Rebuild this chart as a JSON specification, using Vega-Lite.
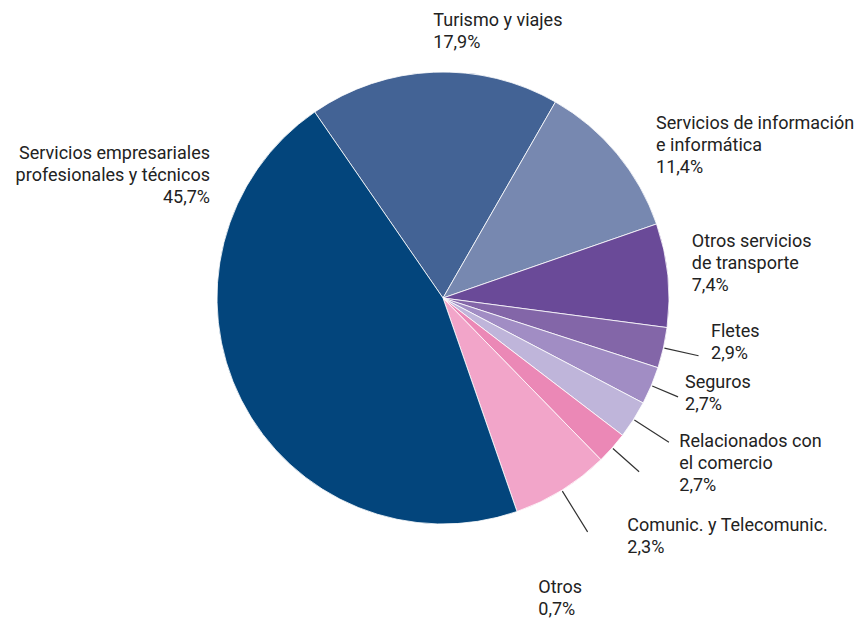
{
  "$schema": "https://vega.github.io/schema/vega-lite/v6.json",
  "autosize": "none",
  "width": 836,
  "height": 596,
  "padding": {"left": 25, "top": 0, "right": 0, "bottom": 27},
  "background": "#ffffff",
  "config": {"view": {"stroke": null}},
  "data": {
    "values": [
      {"name": "Turismo y viajes", "value": 17.9, "label": "Turismo y viajes\n17,9%"},
      {"name": "Servicios de información e informática", "value": 11.4, "label": "Servicios de información\ne informática\n11,4%"},
      {"name": "Otros servicios de transporte", "value": 7.4, "label": "Otros servicios\nde transporte\n7,4%"},
      {"name": "Fletes", "value": 2.9, "label": "Fletes\n2,9%"},
      {"name": "Seguros", "value": 2.7, "label": "Seguros\n2,7%"},
      {"name": "Relacionados con el comercio", "value": 2.7, "label": "Relacionados con\nel comercio\n2,7%"},
      {"name": "Comunic. y Telecomunic.", "value": 2.3, "label": "Comunic. y Telecomunic.\n2,3%"},
      {"name": "Otros", "value": 7.0, "label": "Otros\n0,7%"},
      {"name": "Servicios empresariales profesionales y técnicos", "value": 45.7, "label": "Servicios empresariales\nprofesionales y técnicos\n45,7%"}
    ]
  },
  "transform": [{"window": [{"op": "row_number", "as": "idx"}]}],
  "encoding": {
    "theta": {"field": "value", "type": "quantitative", "stack": true, "scale": {"range": [-0.60388, 5.67931]}},
    "order": {"field": "idx", "type": "quantitative"},
    "detail": {"field": "name", "type": "nominal"}
  },
  "layer": [
    {
      "mark": {"type": "arc", "radius": 226, "stroke": "#ffffff", "strokeWidth": 0.8},
      "encoding": {
        "color": {
          "field": "name", "type": "nominal", "legend": null,
          "scale": {
            "domain": ["Turismo y viajes", "Servicios de información e informática", "Otros servicios de transporte", "Fletes", "Seguros", "Relacionados con el comercio", "Comunic. y Telecomunic.", "Otros", "Servicios empresariales profesionales y técnicos"],
            "range": ["#436395", "#7788B0", "#6A4A98", "#8366A8", "#A18DC4", "#BFB5DA", "#EB88B6", "#F2A5C9", "#03457C"]
          }
        }
      }
    },
    {
      "mark": {"type": "arc", "radius": 262, "radius2": 227, "padAngle": 3.14, "filled": false, "stroke": "#333333", "strokeWidth": 1.2},
      "encoding": {"strokeOpacity": {"condition": {"test": "datum.name === 'Fletes'", "value": 1}, "value": 0}}
    },
    {
      "mark": {"type": "arc", "radius": 255, "radius2": 227, "padAngle": 3.14, "filled": false, "stroke": "#333333", "strokeWidth": 1.2},
      "encoding": {"strokeOpacity": {"condition": {"test": "datum.name === 'Seguros'", "value": 1}, "value": 0}}
    },
    {
      "mark": {"type": "arc", "radius": 268, "radius2": 227, "padAngle": 3.14, "filled": false, "stroke": "#333333", "strokeWidth": 1.2},
      "encoding": {"strokeOpacity": {"condition": {"test": "datum.name === 'Relacionados con el comercio'", "value": 1}, "value": 0}}
    },
    {
      "mark": {"type": "arc", "radius": 262, "radius2": 227, "padAngle": 3.14, "filled": false, "stroke": "#333333", "strokeWidth": 1.2},
      "encoding": {"strokeOpacity": {"condition": {"test": "datum.name === 'Comunic. y Telecomunic.'", "value": 1}, "value": 0}}
    },
    {
      "mark": {"type": "arc", "radius": 275, "radius2": 227, "padAngle": 3.14, "filled": false, "stroke": "#333333", "strokeWidth": 1.2},
      "encoding": {"strokeOpacity": {"condition": {"test": "datum.name === 'Otros'", "value": 1}, "value": 0}}
    },
    {
      "mark": {"type": "text", "radius": 226, "align": "left", "baseline": "alphabetic", "dx": -0.3, "dy": -45.7, "lineBreak": "\n", "lineHeight": 22, "font": "Roboto", "fontSize": 18, "fill": "#222222"},
      "encoding": {"text": {"condition": {"test": "datum.name === 'Turismo y viajes'", "field": "label"}, "value": ""}}
    },
    {
      "mark": {"type": "text", "radius": 226, "align": "left", "baseline": "alphabetic", "dx": 39, "dy": -24.5, "lineBreak": "\n", "lineHeight": 22, "font": "Roboto", "fontSize": 18, "fill": "#222222"},
      "encoding": {"text": {"condition": {"test": "datum.name === 'Servicios de información e informática'", "field": "label"}, "value": ""}}
    },
    {
      "mark": {"type": "text", "radius": 226, "align": "left", "baseline": "alphabetic", "dx": 23.9, "dy": -28.5, "lineBreak": "\n", "lineHeight": 22, "font": "Roboto", "fontSize": 18, "fill": "#222222"},
      "encoding": {"text": {"condition": {"test": "datum.name === 'Otros servicios de transporte'", "field": "label"}, "value": ""}}
    },
    {
      "mark": {"type": "text", "radius": 226, "align": "left", "baseline": "alphabetic", "dx": 47.6, "dy": -11.1, "lineBreak": "\n", "lineHeight": 22, "font": "Roboto", "fontSize": 18, "fill": "#222222"},
      "encoding": {"text": {"condition": {"test": "datum.name === 'Fletes'", "field": "label"}, "value": ""}}
    },
    {
      "mark": {"type": "text", "radius": 226, "align": "left", "baseline": "alphabetic", "dx": 33.7, "dy": 2, "lineBreak": "\n", "lineHeight": 22, "font": "Roboto", "fontSize": 18, "fill": "#222222"},
      "encoding": {"text": {"condition": {"test": "datum.name === 'Seguros'", "field": "label"}, "value": ""}}
    },
    {
      "mark": {"type": "text", "radius": 226, "align": "left", "baseline": "alphabetic", "dx": 45.8, "dy": 27.7, "lineBreak": "\n", "lineHeight": 22, "font": "Roboto", "fontSize": 18, "fill": "#222222"},
      "encoding": {"text": {"condition": {"test": "datum.name === 'Relacionados con el comercio'", "field": "label"}, "value": ""}}
    },
    {
      "mark": {"type": "text", "radius": 226, "align": "left", "baseline": "alphabetic", "dx": 15.2, "dy": 82.8, "lineBreak": "\n", "lineHeight": 22, "font": "Roboto", "fontSize": 18, "fill": "#222222"},
      "encoding": {"text": {"condition": {"test": "datum.name === 'Comunic. y Telecomunic.'", "field": "label"}, "value": ""}}
    },
    {
      "mark": {"type": "text", "radius": 226, "align": "left", "baseline": "alphabetic", "dx": -23.5, "dy": 102.5, "lineBreak": "\n", "lineHeight": 22, "font": "Roboto", "fontSize": 18, "fill": "#222222"},
      "encoding": {"text": {"condition": {"test": "datum.name === 'Otros'", "field": "label"}, "value": ""}}
    },
    {
      "mark": {"type": "text", "radius": 226, "align": "right", "baseline": "alphabetic", "dx": -31.4, "dy": -240.8, "lineBreak": "\n", "lineHeight": 22, "font": "Roboto", "fontSize": 18, "fill": "#222222"},
      "encoding": {"text": {"condition": {"test": "datum.name === 'Servicios empresariales profesionales y técnicos'", "field": "label"}, "value": ""}}
    }
  ]
}
